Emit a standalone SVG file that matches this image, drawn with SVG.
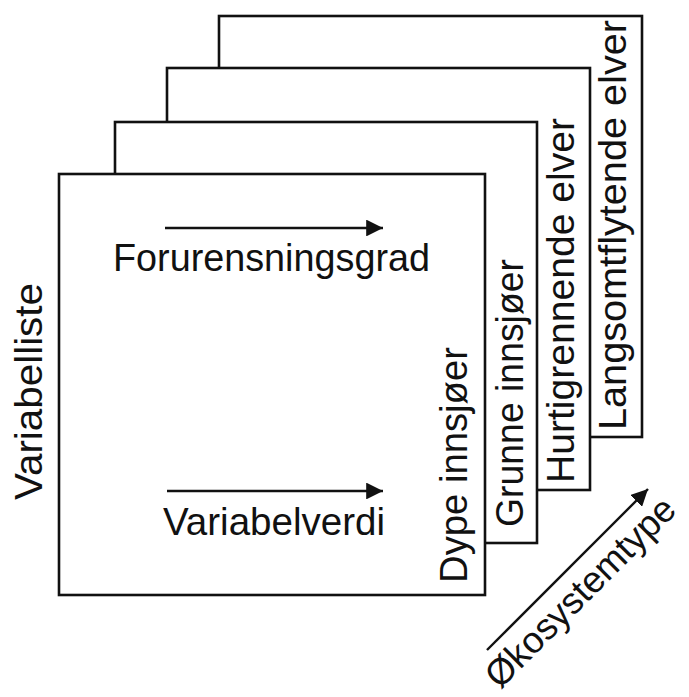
<svg xmlns="http://www.w3.org/2000/svg" width="689" height="697" viewBox="0 0 689 697">
<defs>
<style>
.panel{fill:#fff;stroke:#111;stroke-width:2.6}
.lbl{font-family:"Liberation Sans",Arial,sans-serif;font-size:39px;fill:#111}
.arr{stroke:#111;stroke-width:2.4;fill:none;marker-end:url(#ah)}
</style>
<marker id="ah" viewBox="0 0 10 10" refX="10" refY="5" markerWidth="7" markerHeight="7" markerUnits="strokeWidth" orient="auto">
<path d="M0,0 L10,5 L0,10 Z" fill="#111"/>
</marker>
</defs>
<rect width="689" height="697" fill="#fff"/>
<g id="panel-langsomtflytende">
<rect class="panel" x="219" y="16" width="423" height="421"/>
<text class="lbl" transform="translate(626,430) rotate(-90)" textLength="410" lengthAdjust="spacingAndGlyphs">Langsomtflytende elver</text>
</g>
<g id="panel-hurtigrennende">
<rect class="panel" x="167" y="68" width="423" height="422"/>
<text class="lbl" transform="translate(574,483) rotate(-90)" textLength="365" lengthAdjust="spacingAndGlyphs">Hurtigrennende elver</text>
</g>
<g id="panel-grunne">
<rect class="panel" x="115" y="122" width="422" height="421"/>
<text class="lbl" transform="translate(523,527) rotate(-90)" textLength="268" lengthAdjust="spacingAndGlyphs">Grunne innsjøer</text>
</g>
<g id="panel-dype">
<rect class="panel" x="59" y="174" width="426" height="421"/>
<text class="lbl" transform="translate(467,583) rotate(-90)" textLength="236" lengthAdjust="spacingAndGlyphs">Dype innsjøer</text>
<text class="lbl" x="113" y="271" textLength="317" lengthAdjust="spacingAndGlyphs">Forurensningsgrad</text>
<text class="lbl" x="163" y="535" textLength="222" lengthAdjust="spacingAndGlyphs">Variabelverdi</text>
</g>
<g id="axis-variabelliste">
<text class="lbl" transform="translate(42,500) rotate(-90)" textLength="217" lengthAdjust="spacingAndGlyphs">Variabelliste</text>
</g>
<g id="axis-okosystemtype">
<text class="lbl" style="font-size:37px" transform="translate(500,690) rotate(-45)" textLength="252" lengthAdjust="spacingAndGlyphs">Økosystemtype</text>
</g>
<g id="connectors">
<line class="arr" x1="487" y1="650" x2="648" y2="489"/>
<line class="arr" x1="165" y1="228" x2="383" y2="228"/>
<line class="arr" x1="167" y1="491" x2="383" y2="491"/>
</g>
</svg>
